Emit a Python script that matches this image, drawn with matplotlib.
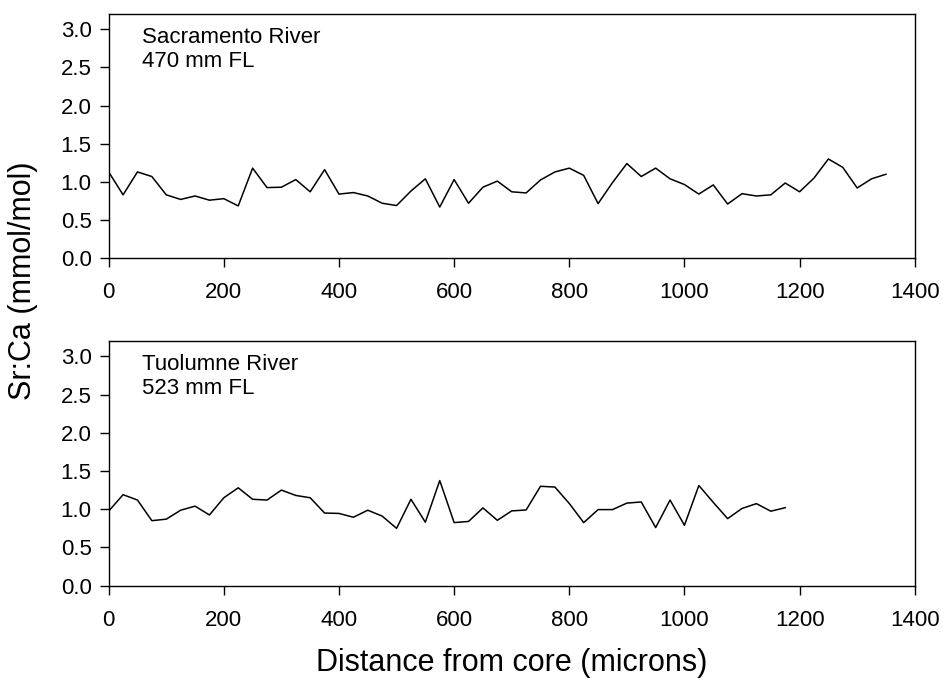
import matplotlib
matplotlib.use("Agg")
import matplotlib.pyplot as plt
import numpy as np

plt.rcParams['font.family'] = ['Liberation Sans', 'DejaVu Sans']

# Sr:Ca profiles, one reading every 25 microns from the core
sac_dist = np.arange(0, 1351, 25)
sac_srca = [1.13, 0.83, 1.13, 1.07, 0.83, 0.77, 0.815, 0.76, 0.78, 0.685,
            1.18, 0.925, 0.93, 1.03, 0.87, 1.16, 0.84, 0.86, 0.815, 0.72,
            0.69, 0.88, 1.04, 0.67, 1.03, 0.72, 0.93, 1.01, 0.87, 0.855,
            1.025, 1.13, 1.18, 1.085, 0.715, 0.99, 1.24, 1.07, 1.18, 1.04,
            0.965, 0.84, 0.96, 0.71, 0.845, 0.815, 0.83, 0.985, 0.87, 1.05,
            1.30, 1.19, 0.92, 1.04, 1.10]

tuo_dist = np.arange(0, 1176, 25)
tuo_srca = [0.975, 1.19, 1.12, 0.85, 0.87, 0.987, 1.04, 0.925, 1.15, 1.28,
            1.13, 1.12, 1.25, 1.18, 1.15, 0.95, 0.945, 0.895, 0.987, 0.91,
            0.75, 1.13, 0.83, 1.375, 0.825, 0.84, 1.017, 0.855, 0.978, 0.99,
            1.30, 1.29, 1.075, 0.825, 0.995, 0.995, 1.08, 1.095, 0.76, 1.12,
            0.79, 1.31, 1.09, 0.877, 1.01, 1.073, 0.974, 1.02]

panels = [("Sacramento River\n470 mm FL", sac_dist, sac_srca),
          ("Tuolumne River\n523 mm FL", tuo_dist, tuo_srca)]

yticks = [0.0, 0.5, 1.0, 1.5, 2.0, 2.5, 3.0]
xticks = [0, 200, 400, 600, 800, 1000, 1200, 1400]

fig = plt.figure(figsize=(9.45, 6.83), dpi=100)
boxes = [[0.115, 0.622, 0.853, 0.3575], [0.115, 0.1425, 0.853, 0.3582]]

for box, (label, dist, srca) in zip(boxes, panels):
    ax = fig.add_axes(box)
    ax.plot(dist, srca, color='black', lw=1.1)
    ax.set_xlim(0, 1400)
    ax.set_ylim(0, 3.2)
    ax.set_xticks(xticks)
    ax.set_yticks(yticks)
    ax.set_yticklabels([f"{v:.1f}" for v in yticks])
    ax.tick_params(direction='out', length=6.3, width=1.0, labelsize=16,
                   color='black')
    ax.tick_params(axis='y', pad=6)
    ax.tick_params(axis='x', pad=11)
    for s in ax.spines.values():
        s.set_linewidth(1.0)
    ax.text(0.041, 0.945, label, transform=ax.transAxes, fontsize=16,
            va='top', ha='left', linespacing=1.15)

fig.text(0.024, 0.589, "Sr:Ca (mmol/mol)", rotation=90, fontsize=22,
         ha='center', va='center')
fig.text(0.541, 0.03, "Distance from core (microns)", fontsize=22,
         ha='center', va='center')

fig.savefig("out.png", dpi=100)
